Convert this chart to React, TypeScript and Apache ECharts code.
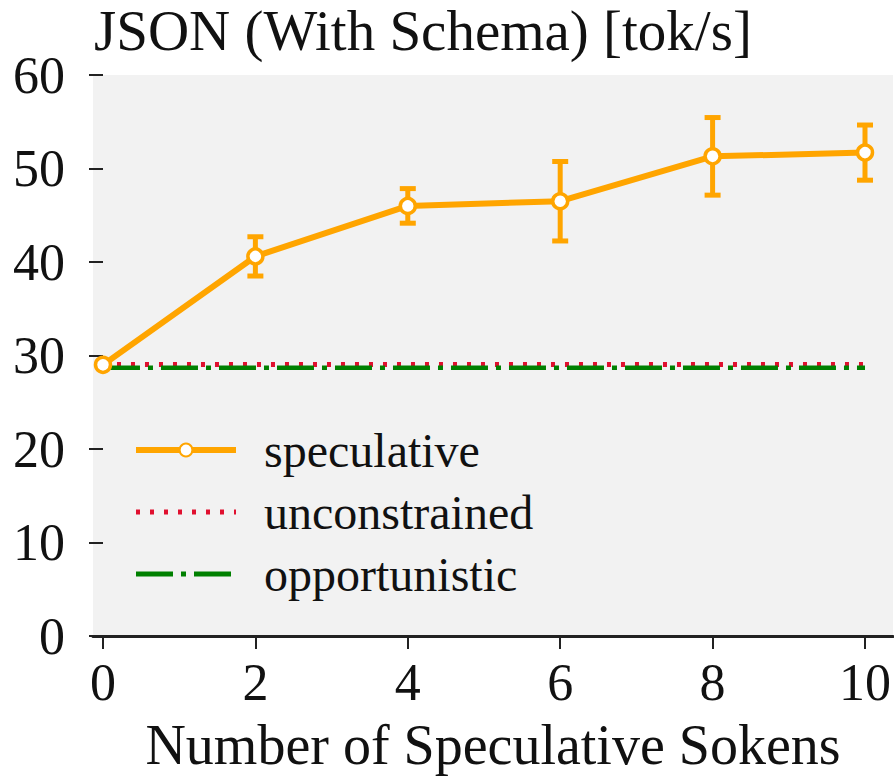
import React, { useEffect, useRef } from "react";
import * as echarts from "echarts";

// ---- data ----
const xValues = [0, 2, 4, 6, 8, 10];
const speculative = [29.0, 40.6, 46.0, 46.5, 51.3, 51.7];
const speculativeErr = [0, 2.1, 1.85, 4.25, 4.15, 2.95];
const baselineX = [0, 10];
const unconstrained = [29.05, 29.05];
const opportunistic = [28.7, 28.7];
const xTickValues = [0, 2, 4, 6, 8, 10];
const yTickValues = [0, 10, 20, 30, 40, 50, 60];
const seriesNames = ["speculative", "unconstrained", "opportunistic"];

const FONT = "Liberation Serif";
const ORANGE = "#FFA500";
const RED = "#E0102F";
const GREEN = "#008000";

export default function App() {
  const ref = useRef<HTMLDivElement>(null);
  useEffect(() => {
    if (!ref.current) return;
    const chart = echarts.init(ref.current, null, { renderer: "svg" });
    const errData = xValues
      .map((x, i) => [x, speculative[i] - speculativeErr[i], speculative[i] + speculativeErr[i]])
      .filter((d, i) => speculativeErr[i] > 0);
    chart.setOption({
      animation: false,
      backgroundColor: "#ffffff",
      title: {
        text: "JSON (With Schema) [tok/s]",
        left: 94,
        top: 2,
        padding: 0,
        textStyle: { fontFamily: FONT, fontSize: 57, fontWeight: "normal", color: "#111" },
      },
      grid: {
        left: 93,
        right: 1,
        top: 75,
        bottom: 139,
        show: true,
        backgroundColor: "#f2f2f2",
        borderWidth: 0,
      },
      legend: {
        orient: "vertical",
        left: 128,
        top: 421,
        data: [
          { name: seriesNames[0], lineStyle: { width: 6 } },
          { name: seriesNames[1], lineStyle: { width: 5 }, itemStyle: { opacity: 0 } },
          { name: seriesNames[2], lineStyle: { width: 5 }, itemStyle: { opacity: 0 } },
        ],
        itemWidth: 100,
        itemHeight: 16,
        itemGap: 14,
        textStyle: { fontFamily: FONT, fontSize: 48, color: "#111", padding: [0, 0, 0, 23] },
      },
      xAxis: {
        type: "value",
        min: -0.131,
        max: 10.367,
        name: "Number of Speculative Sokens",
        nameLocation: "middle",
        nameGap: 81,
        nameTextStyle: { fontFamily: FONT, fontSize: 56, color: "#111", verticalAlign: "top" },
        splitLine: { show: false },
        axisLine: { show: true, onZero: false, lineStyle: { color: "#222", width: 3 } },
        axisTick: {
          show: true,
          length: 13,
          lineStyle: { color: "#222", width: 2 },
          customValues: xTickValues,
        },
        axisLabel: {
          fontFamily: FONT,
          fontSize: 52,
          color: "#111",
          margin: 20,
          customValues: xTickValues,
        },
      },
      yAxis: {
        type: "value",
        min: 0,
        max: 60,
        interval: 10,
        splitLine: { show: false },
        axisLine: { show: false },
        axisTick: {
          show: true,
          length: 14,
          lineStyle: { color: "#222", width: 2 },
          customValues: yTickValues,
        },
        axisLabel: {
          fontFamily: FONT,
          fontSize: 52,
          color: "#111",
          margin: 28,
          customValues: yTickValues,
        },
      },
      series: [
        {
          name: "unconstrained",
          type: "line",
          data: baselineX.map((x, i) => [x, unconstrained[i]]),
          symbol: "none",
          lineStyle: { color: RED, width: 5, type: [4, 10] },
          itemStyle: { color: RED },
          z: 2,
        },
        {
          name: "opportunistic",
          type: "line",
          data: baselineX.map((x, i) => [x, opportunistic[i]]),
          symbol: "none",
          lineStyle: { color: GREEN, width: 4.5, type: [37, 8, 5, 8] },
          itemStyle: { color: GREEN },
          z: 3,
        },
        {
          name: "speculative-err",
          type: "custom",
          data: errData,
          z: 4,
          renderItem: (params: any, api: any) => {
            const x = api.value(0);
            const lo = api.coord([x, api.value(1)]);
            const hi = api.coord([x, api.value(2)]);
            const cap = 8;
            const style = { stroke: ORANGE, lineWidth: 5, fill: "none" };
            return {
              type: "group",
              children: [
                { type: "line", shape: { x1: lo[0], y1: lo[1], x2: hi[0], y2: hi[1] }, style },
                { type: "line", shape: { x1: lo[0] - cap, y1: lo[1], x2: lo[0] + cap, y2: lo[1] }, style },
                { type: "line", shape: { x1: hi[0] - cap, y1: hi[1], x2: hi[0] + cap, y2: hi[1] }, style },
              ],
            };
          },
        },
        {
          name: "speculative",
          type: "line",
          data: xValues.map((x, i) => [x, speculative[i]]),
          symbol: "circle",
          symbolSize: 15,
          lineStyle: { color: ORANGE, width: 6 },
          itemStyle: { color: "#ffffff", borderColor: ORANGE, borderWidth: 3.5 },
          z: 5,
        },
      ],
    });
    return () => chart.dispose();
  }, []);
  return <div ref={ref} style={{ width: 894, height: 778, position: "absolute", left: 0, top: 0 }} />;
}
